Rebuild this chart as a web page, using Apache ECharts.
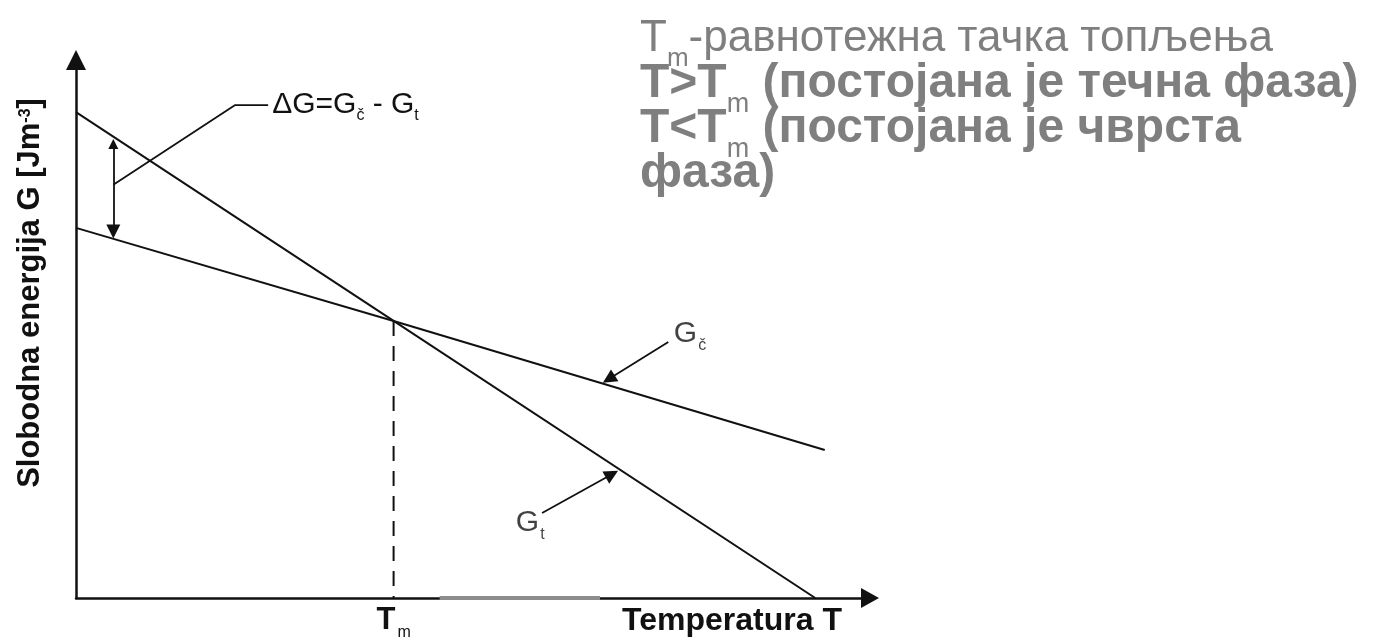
<!DOCTYPE html>
<html>
<head>
<meta charset="utf-8">
<title>Slobodna energija G</title>
<script src="https://cdn.jsdelivr.net/npm/echarts@6/dist/echarts.min.js"></script>
<style>
  html, body { margin: 0; padding: 0; background: #fff; }
  #newCharts { width: 1383px; height: 643px; }
</style>
</head>
<body>
<div id="newCharts"></div>
<script>
// temperatura (x) i slobodna energija (y), relativne jedinice 0..100
const Tm = 40;
const liquidT = [0, 40, 93.1];      // Gt - tečna faza
const liquidG = [90.3, 51.5, 0];
const solidT = [0, 40, 94.3];       // Gč - čvrsta faza
const solidG = [68.8, 51.5, 27.5];
const tmLineT = [Tm, Tm];
const tmLineG = [51.5, 0];

// ΔG strelica i pokazivač do oznake
const deltaT = [4.7, 4.7];
const deltaG = [84.4, 68.1];
const leaderT = [4.7, 20.0, 24.2];
const leaderG = [76.8, 91.6, 91.6];

// strelice koje pokazuju na krive
const solidArrowT = [74.6, 67.1];
const solidArrowG = [47.6, 40.7];
const liquidArrowT = [58.7, 67.5];
const liquidArrowG = [15.8, 23.0];

// sivi trag na x osi (sa skena)
const scanMarkT = [45.8, 66];
const scanMarkG = [0, 0];

// tekst gore desno
const noteLines = [
  '{r|T}{rs|m}{r|-равнотежна тачка топљења}',
  '{b|T>T}{bs|m}{b| (постојана је течна фаза)}',
  '{b|T<T}{bs|m}{b| (постојана је чврста}',
  '{b|фаза)}'
];

const zip = (xs, ys) => xs.map((x, i) => [x, ys[i]]);
const ink = '#111';
const grey = '#7f7f7f';
const font = "'Liberation Sans', Arial, sans-serif";

const chartDom = document.getElementById('newCharts');
const myChart = echarts.init(chartDom);

const option = {
  animation: false,
  backgroundColor: '#fff',
  textStyle: { fontFamily: font },
  grid: { left: 76, right: 513, top: 60, bottom: 45, outerBoundsMode: 'none', containLabel: false },
  xAxis: {
    type: 'value',
    min: 0,
    max: 100,
    name: 'Temperatura T',
    nameLocation: 'end',
    nameGap: -28,
    nameTextStyle: {
      color: ink, fontSize: 32, fontWeight: 'bold', fontFamily: font,
      align: 'right', verticalAlign: 'top', padding: [7, 0, 0, 0]
    },
    axisLine: {
      show: true,
      symbol: ['none', 'triangle'],
      symbolSize: [20, 18],
      lineStyle: { color: ink, width: 2.5 }
    },
    axisTick: { show: false },
    splitLine: { show: false },
    axisLabel: {
      customValues: [Tm],
      margin: 6,
      formatter: () => '{t|T}{s|m}',
      rich: {
        t: { fontSize: 31, fontWeight: 'bold', color: ink, lineHeight: 32, fontFamily: font },
        s: { fontSize: 16, color: ink, lineHeight: 8, verticalAlign: 'top', padding: [21, 0, 0, 2], fontFamily: font }
      }
    }
  },
  yAxis: {
    type: 'value',
    min: 0,
    max: 100,
    name: '{a|Slobodna energija G [Jm}{p|-3}{a|]}',
    nameLocation: 'middle',
    nameRotate: 90,
    nameGap: 29,
    nameTextStyle: {
      padding: [0, 0, 0, 72],
      rich: {
        a: { fontSize: 31, fontWeight: 'bold', color: ink, lineHeight: 34, fontFamily: font },
        p: { fontSize: 16, fontWeight: 'bold', color: ink, lineHeight: 8, verticalAlign: 'top', padding: [5, 0, 0, 0], fontFamily: font }
      }
    },
    axisLine: {
      show: true,
      symbol: ['none', 'triangle'],
      symbolSize: [20, 20],
      lineStyle: { color: ink, width: 2.5 }
    },
    axisTick: { show: false },
    axisLabel: { show: false },
    splitLine: { show: false }
  },
  graphic: [{
    type: 'text',
    left: 640,
    top: 16,
    style: {
      text: noteLines.join('\n'),
      fill: grey,
      rich: {
        r: { fontSize: 44, fill: grey, lineHeight: 45, fontFamily: font, verticalAlign: 'middle' },
        rs: { fontSize: 26, fill: grey, lineHeight: 10, verticalAlign: 'top', padding: [30, 0, 0, 0], fontFamily: font },
        b: { fontSize: 48, fontWeight: 'bold', fill: grey, lineHeight: 45, fontFamily: font, verticalAlign: 'middle' },
        bs: { fontSize: 27, fill: grey, lineHeight: 10, verticalAlign: 'top', padding: [30, 0, 0, 0], fontFamily: font }
      }
    }
  }],
  series: [
    {
      name: 'Gt',
      type: 'line',
      data: zip(liquidT, liquidG),
      showSymbol: false,
      lineStyle: { color: ink, width: 2 }
    },
    {
      name: 'Gč',
      type: 'line',
      data: zip(solidT, solidG),
      showSymbol: false,
      lineStyle: { color: ink, width: 2 }
    },
    {
      name: 'Tm',
      type: 'line',
      data: zip(tmLineT, tmLineG),
      showSymbol: false,
      lineStyle: { color: ink, width: 2, type: [15, 10] }
    },
    {
      name: 'sken',
      type: 'line',
      data: zip(scanMarkT, scanMarkG),
      showSymbol: false,
      z: 5,
      lineStyle: { color: '#8c8c8c', width: 4 }
    },
    {
      // pokazivač do oznake ΔG
      name: 'dG',
      type: 'line',
      data: zip(leaderT, leaderG),
      showSymbol: false,
      lineStyle: { color: ink, width: 1.8 },
      endLabel: {
        show: true,
        distance: 4,
        formatter: () => '{g|ΔG=G}{s|č}{g| - G}{s|t}',
        rich: {
          g: { fontSize: 30, color: ink, lineHeight: 32, fontFamily: font },
          s: { fontSize: 16, color: ink, lineHeight: 8, verticalAlign: 'top', padding: [18, 0, 0, 0], fontFamily: font }
        }
      }
    },
    {
      // strelice
      type: 'lines',
      coordinateSystem: 'cartesian2d',
      symbol: ['triangle', 'triangle'],
      symbolSize: [10, 14],
      lineStyle: { color: ink, width: 1.8, opacity: 1, curveness: 0 },
      data: [{ coords: zip(deltaT, deltaG) }]
    },
    {
      type: 'lines',
      coordinateSystem: 'cartesian2d',
      symbol: ['none', 'triangle'],
      symbolSize: [11, 14],
      lineStyle: { color: ink, width: 1.8, opacity: 1, curveness: 0 },
      data: [
        { coords: zip(solidArrowT, solidArrowG) },
        { coords: zip(liquidArrowT, liquidArrowG) }
      ]
    },
    {
      // oznake krivih
      type: 'scatter',
      symbolSize: 1,
      itemStyle: { color: 'transparent' },
      data: [
        {
          value: [solidArrowT[0], solidArrowG[0]],
          label: { show: true, position: 'right', distance: 5, offset: [0, -8], formatter: () => '{g|G}{s|č}' }
        },
        {
          value: [liquidArrowT[0], liquidArrowG[0]],
          label: { show: true, position: 'left', distance: 0, offset: [3, 10], formatter: () => '{g|G}{s|t}' }
        }
      ],
      label: {
        rich: {
          g: { fontSize: 30, color: ink, lineHeight: 32, fontFamily: font },
          s: { fontSize: 16, color: ink, lineHeight: 8, verticalAlign: 'top', padding: [20, 0, 0, 1], fontFamily: font }
        }
      }
    }
  ]
};

myChart.setOption(option);
</script>
</body>
</html>
